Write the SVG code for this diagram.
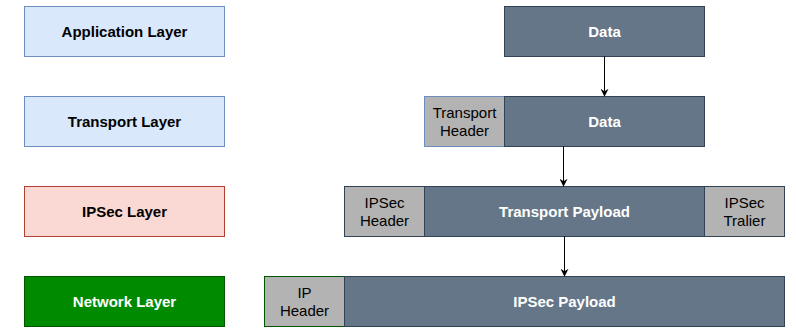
<svg xmlns="http://www.w3.org/2000/svg" width="796" height="335" viewBox="0 0 796 335">
<defs>
<style>
text{font-family:"Liberation Sans",Arial,Helvetica,sans-serif;font-size:15px;text-anchor:middle}
.b{font-weight:bold}
.w{fill:#ffffff}
.k{fill:#000000}
.blue{fill:#dae8fc;stroke:#6c8ebf}
.red{fill:#fad9d5;stroke:#ae4132}
.green{fill:#008a00;stroke:#005700}
.slate{fill:#647687;stroke:#314354}
.gray{fill:#b3b3b3;stroke:#314354}
rect{stroke-width:1}
.edge{stroke:#000;stroke-width:1;fill:none}
</style>
<marker id="arr" viewBox="0 0 10 10" refX="9" refY="5" markerWidth="8" markerHeight="8" markerUnits="userSpaceOnUse" orient="auto">
<path d="M0,0 L10,5 L0,10 L3,5 Z" fill="#000"/>
</marker>
</defs>
<g id="app-layer"><rect class="blue" x="24.5" y="6.5" width="200" height="50"/><text class="b k" x="124.5" y="37">Application Layer</text></g>
<g id="transport-layer"><rect class="blue" x="24.5" y="96.5" width="200" height="50"/><text class="b k" x="124.5" y="127">Transport Layer</text></g>
<g id="ipsec-layer"><rect class="red" x="24.5" y="186.5" width="200" height="50"/><text class="b k" x="124.5" y="217">IPSec Layer</text></g>
<g id="network-layer"><rect class="green" x="24.5" y="276.5" width="200" height="50"/><text class="b w" x="124.5" y="307">Network Layer</text></g>

<g id="data1"><rect class="slate" x="504.5" y="6.5" width="200" height="50"/><text class="b w" x="604.5" y="37">Data</text></g>

<g id="transport-header"><rect class="gray" style="stroke:#6c8ebf" x="424.5" y="96.5" width="80" height="50"/><text class="k" x="464.5" y="118">Transport</text><text class="k" x="464.5" y="136">Header</text></g>
<g id="data2"><rect class="slate" x="504.5" y="96.5" width="200" height="50"/><text class="b w" x="604.5" y="127">Data</text></g>

<g id="ipsec-header"><rect class="gray" x="344.5" y="186.5" width="80" height="50"/><text class="k" x="384.5" y="208">IPSec</text><text class="k" x="384.5" y="226">Header</text></g>
<g id="transport-payload"><rect class="slate" x="424.5" y="186.5" width="280" height="50"/><text class="b w" x="564.5" y="217">Transport Payload</text></g>
<g id="ipsec-trailer"><rect class="gray" x="704.5" y="186.5" width="80" height="50"/><text class="k" x="744.5" y="208">IPSec</text><text class="k" x="744.5" y="226">Tralier</text></g>

<g id="ip-header"><rect class="gray" style="stroke:#005700" x="264.5" y="276.5" width="80" height="50"/><text class="k" x="304.5" y="298">IP</text><text class="k" x="304.5" y="316">Header</text></g>
<g id="ipsec-payload"><rect class="slate" x="344.5" y="276.5" width="440" height="50"/><text class="b w" x="564.5" y="307">IPSec Payload</text></g>

<g id="connectors">
<path class="edge" d="M604.5,56.5 L604.5,96" marker-end="url(#arr)"/>
<path class="edge" d="M563.5,146.5 L563.5,186" marker-end="url(#arr)"/>
<path class="edge" d="M564.5,236.5 L564.5,276" marker-end="url(#arr)"/>
</g>
</svg>
